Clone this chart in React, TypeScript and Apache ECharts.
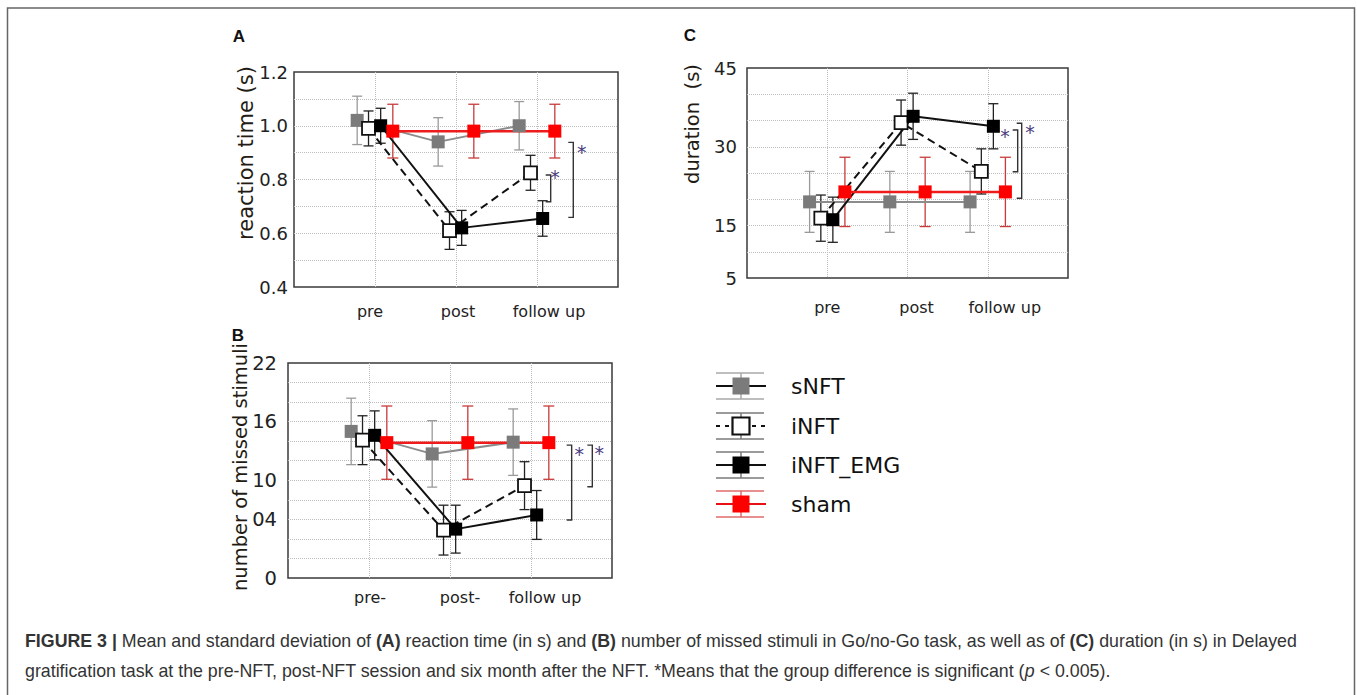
import React, { useEffect, useRef } from "react";
import * as echarts from "echarts";

// ---------- data ----------
const groups = ["sNFT", "iNFT", "iNFT_EMG", "sham"];
const sessionsAC = ["pre", "post", "follow up"];
const sessionsB = ["pre-", "post-", "follow up"];

// Panel A – reaction time (s): means and SD
const rtSNFT = [1.02, 0.94, 1.0];
const rtSNFTsd = [0.09, 0.09, 0.09];
const rtINFT = [0.99, 0.61, 0.825];
const rtINFTsd = [0.065, 0.07, 0.065];
const rtEMG = [1.0, 0.62, 0.655];
const rtEMGsd = [0.065, 0.065, 0.066];
const rtSham = [0.98, 0.98, 0.98];
const rtShamsd = [0.1, 0.1, 0.1];
const rtTicks = [0.4, 0.6, 0.8, 1.0, 1.2];

// Panel B – number of missed stimuli
const msSNFT = [15.0, 12.7, 13.9];
const msSNFTsd = [3.4, 3.4, 3.4];
const msINFT = [14.1, 4.9, 9.45];
const msINFTsd = [2.5, 2.55, 2.45];
const msEMG = [14.6, 5.0, 6.45];
const msEMGsd = [2.5, 2.45, 2.5];
const msSham = [13.85, 13.85, 13.85];
const msShamsd = [3.75, 3.75, 3.75];
const msTickValues = [0, 6, 10, 16, 22];
const msTickLabels = ["0", "04", "10", "16", "22"];

// Panel C – duration (s)
const duSNFT = [19.5, 19.5, 19.5];
const duSNFTsd = [5.8, 5.8, 5.8];
const duINFT = [16.4, 34.6, 25.3];
const duINFTsd = [4.4, 4.3, 4.3];
const duEMG = [16.1, 35.8, 33.9];
const duEMGsd = [4.3, 4.4, 4.3];
const duSham = [21.4, 21.4, 21.4];
const duShamsd = [6.6, 6.6, 6.6];
const duTicks = [5, 15, 30, 45];

// significance brackets: [x, yTop, yBottom, starX, starY]
const sigA = [
  [3.169, 0.817, 0.717, 3.222, 0.825],
  [3.448, 0.938, 0.659, 3.552, 0.918],
];
const sigB = [
  [3.502, 13.6, 5.94, 3.596, 13.1],
  [3.757, 13.6, 9.34, 3.843, 13.2],
];
const sigC = [
  [3.373, 33.19, 25.25, 3.215, 32.87],
  [3.423, 34.47, 20.18, 3.527, 33.51],
];

// ---------- styles ----------
const groupOffsets = [-0.22, -0.08, 0.07, 0.22];
const FONT = "DejaVu Sans";
const styles = [
  { line: "#8c8c8c", lw: 2, dash: "solid" as any, fill: "#7b7b7b", border: "#7b7b7b", bw: 0, err: "#9a9a9a", cap: "#a8a8a8", legLine: "#111", legDash: null as any },
  { line: "#111", lw: 2, dash: [8, 5] as any, fill: "#ffffff", border: "#111", bw: 1.8, err: "#222", cap: "#7a7a7a", legLine: "#111", legDash: [4, 5] },
  { line: "#111", lw: 2, dash: "solid" as any, fill: "#000", border: "#000", bw: 0, err: "#222", cap: "#7a7a7a", legLine: "#111", legDash: null },
  { line: "#ee1c1c", lw: 2.5, dash: "solid" as any, fill: "#ff0000", border: "#ff0000", bw: 0, err: "#c83a3a", cap: "#e06a6a", legLine: "#e81010", legDash: null },
];

const grids = [
  { left: 294, top: 72, width: 324, height: 215 },
  { left: 288, top: 363, width: 324, height: 215 },
  { left: 747, top: 68, width: 321, height: 210 },
];

function errRender(color: string, hw: number) {
  return (params: any, api: any) => {
    const x = api.value(0);
    const top = api.coord([x, api.value(2)]);
    const bot = api.coord([x, api.value(1)]);
    const st = { stroke: color, lineWidth: 1.3 };
    return {
      type: "group",
      children: [
        { type: "line", shape: { x1: top[0], y1: top[1], x2: bot[0], y2: bot[1] }, style: st },
        { type: "line", shape: { x1: top[0] - hw, y1: top[1], x2: top[0] + hw, y2: top[1] }, style: st },
        { type: "line", shape: { x1: bot[0] - hw, y1: bot[1], x2: bot[0] + hw, y2: bot[1] }, style: st },
      ],
    };
  };
}

function sigRender(params: any, api: any) {
  const x = api.value(0);
  const p1 = api.coord([x, api.value(1)]);
  const p2 = api.coord([x, api.value(2)]);
  const s = api.coord([api.value(3), api.value(4)]);
  return {
    type: "group",
    children: [
      {
        type: "polyline",
        shape: { points: [[p1[0] - 5, p1[1]], [p1[0], p1[1]], [p2[0], p2[1]], [p2[0] - 5, p2[1]]] },
        style: { stroke: "#333", lineWidth: 1.4, fill: "none" },
      },
      {
        type: "text",
        x: s[0],
        y: s[1] + 4,
        style: { text: "*", fill: "#4a3d80", fontSize: 19, fontFamily: FONT, align: "center", verticalAlign: "middle" },
      },
    ],
  };
}

function panelSeries(gi: number, means: number[][], sds: number[][], sig: number[][]) {
  const out: any[] = [];
  means.forEach((m, g) => {
    const off = groupOffsets[g];
    const st = styles[g];
    out.push({
      type: "custom",
      name: groups[g] + "-err",
      xAxisIndex: gi,
      yAxisIndex: gi,
      renderItem: errRender(st.err, g === 3 ? 5.5 : 5),
      data: m.map((v, i) => [i + 1 + off, v - sds[g][i], v + sds[g][i]]),
      encode: { x: 0, y: [1, 2] },
      z: 2,
      silent: true,
    });
  });
  means.forEach((m, g) => {
    const off = groupOffsets[g];
    const st = styles[g];
    out.push({
      type: "line",
      name: groups[g],
      xAxisIndex: gi,
      yAxisIndex: gi,
      data: m.map((v, i) => [i + 1 + off, v]),
      symbol: "rect",
      symbolSize: 13,
      showSymbol: true,
      lineStyle: { color: st.line, width: st.lw, type: st.dash },
      itemStyle: { color: st.fill, borderColor: st.border, borderWidth: st.bw },
      z: 3,
      silent: true,
    });
  });
  out.push({
    type: "custom",
    name: "sig",
    xAxisIndex: gi,
    yAxisIndex: gi,
    renderItem: sigRender,
    data: sig,
    encode: { x: 0, y: [1, 2] },
    z: 4,
    silent: true,
  });
  return out;
}

const splitStyle = { color: "#bdbdbd", type: "dotted" as any, width: 1 };

function makeX(gi: number, labels: string[], shifts: number[], margin: number) {
  const rich: any = {};
  shifts.forEach((s, i) => {
    rich["s" + i] = {
      fontFamily: FONT,
      fontSize: 16,
      color: "#222",
      padding: s >= 0 ? [0, 0, 0, 2 * s] : [0, -2 * s, 0, 0],
    };
  });
  return {
    gridIndex: gi,
    type: "value",
    min: 0,
    max: 4,
    interval: 1,
    axisLine: { show: false },
    axisTick: { show: false },
    splitLine: { show: true, showMinLine: false, showMaxLine: false, lineStyle: splitStyle },
    axisLabel: {
      margin,
      formatter: (v: number) => {
        const i = Math.round(v) - 1;
        return i >= 0 && i < labels.length ? `{s${i}|${labels[i]}}` : "";
      },
      rich,
    },
  };
}

function makeY(gi: number, min: number, max: number, interval: number, margin: number, fontSize: number, fmt: (v: number) => string) {
  return {
    gridIndex: gi,
    type: "value",
    min,
    max,
    interval,
    axisLine: { show: false },
    axisTick: { show: false },
    splitLine: { show: true, showMinLine: false, showMaxLine: false, lineStyle: splitStyle },
    axisLabel: { margin, fontFamily: FONT, fontSize, color: "#222", formatter: fmt },
  };
}

function legendGraphic() {
  const cys = [386, 426, 465, 504];
  const els: any[] = [];
  groups.forEach((name, g) => {
    const st = styles[g];
    const cy = cys[g];
    const capStyle = { stroke: st.cap, lineWidth: 1.5 };
    els.push({ type: "line", shape: { x1: 716, y1: cy - 13, x2: 764, y2: cy - 13 }, style: capStyle, silent: true });
    els.push({ type: "line", shape: { x1: 716, y1: cy + 13, x2: 764, y2: cy + 13 }, style: capStyle, silent: true });
    els.push({ type: "line", shape: { x1: 741, y1: cy - 13, x2: 741, y2: cy + 13 }, style: capStyle, silent: true });
    els.push({
      type: "line",
      shape: { x1: 716, y1: cy, x2: 766, y2: cy },
      style: { stroke: st.legLine, lineWidth: 2, lineDash: st.legDash || undefined },
      silent: true,
    });
    els.push({
      type: "rect",
      shape: { x: 741 - 8.5, y: cy - 8.5, width: 17, height: 17 },
      style: { fill: st.fill, stroke: st.bw ? st.border : st.fill, lineWidth: st.bw ? 2.2 : 0 },
      silent: true,
    });
    els.push({
      type: "text",
      x: 791,
      y: cy,
      style: { text: name, fill: "#111", fontSize: 22, fontFamily: FONT, align: "left", verticalAlign: "middle" },
      silent: true,
    });
  });
  return els;
}

function buildOption() {
  const CAP = 17.8;
  const graphic: any[] = [
    {
      type: "rect",
      shape: { x: 7.5, y: 8, width: 1347, height: 720 },
      style: { fill: "none", stroke: "#666", lineWidth: 1.5 },
      silent: true,
      z: -1,
    },
    { type: "text", x: 239, y: 36, style: { text: "A", fill: "#111", font: "bold 17px 'Liberation Sans'", align: "center", verticalAlign: "middle" } },
    { type: "text", x: 238, y: 335, style: { text: "B", fill: "#111", font: "bold 17px 'Liberation Sans'", align: "center", verticalAlign: "middle" } },
    { type: "text", x: 690, y: 35, style: { text: "C", fill: "#111", font: "bold 17px 'Liberation Sans'", align: "center", verticalAlign: "middle" } },
    { type: "text", x: 246, y: 153, rotation: Math.PI / 2, style: { text: "reaction time (s)", fill: "#241c14", fontSize: 21, fontFamily: FONT, align: "center", verticalAlign: "middle" } },
    { type: "text", x: 240, y: 467, rotation: Math.PI / 2, style: { text: "number of missed stimuli", fill: "#241c14", fontSize: 19.5, fontFamily: FONT, align: "center", verticalAlign: "middle" } },
    { type: "text", x: 692, y: 124, rotation: Math.PI / 2, style: { text: "duration  (s)", fill: "#241c14", fontSize: 19.5, fontFamily: FONT, align: "center", verticalAlign: "middle" } },
    {
      type: "text",
      x: 25,
      y: 641,
      style: {
        text: "{b|FIGURE 3 |} Mean and standard deviation of {b|(A)} reaction time (in s) and {b|(B)} number of missed stimuli in Go/no-Go task, as well as of {b|(C)} duration (in s) in Delayed",
        fill: "#333",
        fontSize: CAP,
        fontFamily: "Liberation Sans",
        verticalAlign: "middle",
        rich: { b: { fontWeight: "bold", fontSize: CAP, fontFamily: "Liberation Sans", fill: "#333" } },
      },
    },
    {
      type: "text",
      x: 25,
      y: 671,
      style: {
        text: "gratification task at the pre-NFT, post-NFT session and six month after the NFT. *Means that the group difference is significant ({i|p} < 0.005).",
        fill: "#333",
        fontSize: CAP,
        fontFamily: "Liberation Sans",
        verticalAlign: "middle",
        rich: { i: { fontStyle: "italic", fontSize: CAP, fontFamily: "Liberation Sans", fill: "#333" } },
      },
    },
    ...legendGraphic(),
  ];

  return {
    animation: false,
    backgroundColor: "#ffffff",
    grid: grids.map((g) => ({ ...g, show: true, borderColor: "#3a3a3a", borderWidth: 1.5, backgroundColor: "transparent", containLabel: false })),
    xAxis: [
      makeX(0, sessionsAC, [-5, 2, 12], 16),
      makeX(1, sessionsB, [1, 10, 14], 11),
      makeX(2, sessionsAC, [0, 9, 17], 21),
    ],
    yAxis: [
      makeY(0, 0.4, 1.2, 0.1, 6, 18, (v) => (rtTicks.some((t) => Math.abs(t - v) < 1e-6) ? v.toFixed(1) : "")),
      makeY(1, 0, 22, 2, 11, 19.5, (v) => {
        const i = msTickValues.findIndex((t) => Math.abs(t - v) < 1e-6);
        return i >= 0 ? msTickLabels[i] : "";
      }),
      makeY(2, 5, 45, 5, 10, 18, (v) => (duTicks.some((t) => Math.abs(t - v) < 1e-6) ? String(v) : "")),
    ],
    series: [
      ...panelSeries(0, [rtSNFT, rtINFT, rtEMG, rtSham], [rtSNFTsd, rtINFTsd, rtEMGsd, rtShamsd], sigA),
      ...panelSeries(1, [msSNFT, msINFT, msEMG, msSham], [msSNFTsd, msINFTsd, msEMGsd, msShamsd], sigB),
      ...panelSeries(2, [duSNFT, duINFT, duEMG, duSham], [duSNFTsd, duINFTsd, duEMGsd, duShamsd], sigC),
    ],
    graphic,
  };
}

export default function App() {
  const ref = useRef<HTMLDivElement>(null);
  useEffect(() => {
    document.body.style.margin = "0";
    const chart = echarts.init(ref.current as HTMLDivElement, null, { renderer: "svg" });
    chart.setOption(buildOption() as any);
    return () => chart.dispose();
  }, []);
  return <div ref={ref} style={{ width: 1357, height: 695 }} />;
}
